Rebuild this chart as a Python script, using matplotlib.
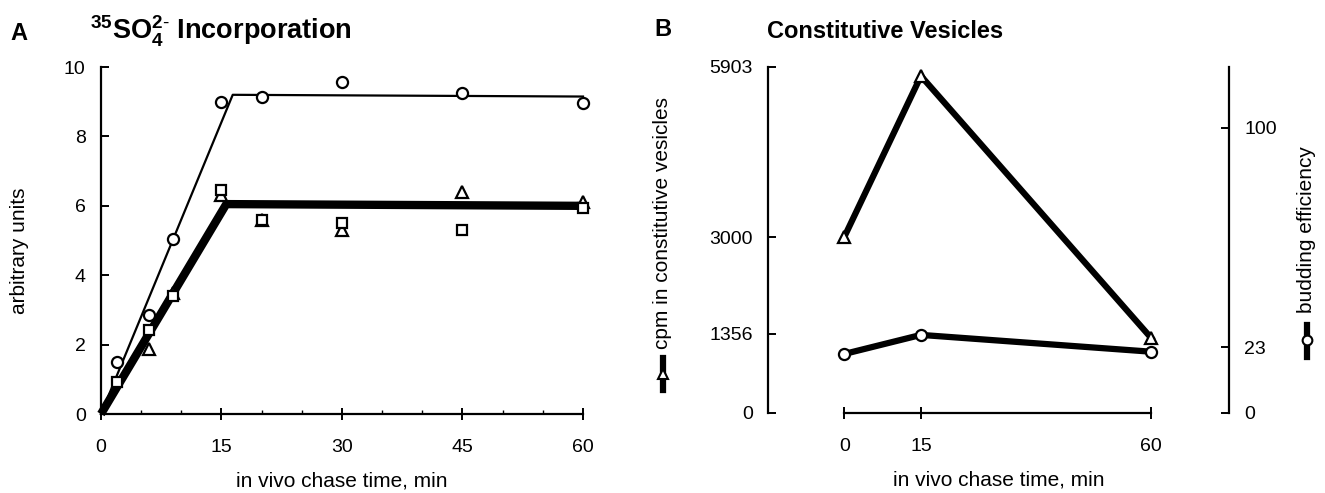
import matplotlib
matplotlib.use("Agg")
import matplotlib.pyplot as plt

plt.rcParams['font.family'] = ['Liberation Sans', 'DejaVu Sans']
plt.rcParams['mathtext.fontset'] = 'custom'
plt.rcParams['mathtext.rm'] = 'Liberation Sans'
plt.rcParams['mathtext.bf'] = 'Liberation Sans:bold'
plt.rcParams['mathtext.default'] = 'bf'

# panel A: 35SO4 incorporation (arbitrary units)
time_a = [2, 6, 9, 15, 20, 30, 45, 60]
circles_a = [1.5, 2.85, 5.03, 9.0, 9.14, 9.58, 9.25, 8.95]
triangle_time = [6, 9, 15, 20, 30, 45, 60]
triangles_a = [1.87, 3.5, 6.3, 5.6, 5.3, 6.4, 6.1]
squares_a = [0.92, 2.42, 3.4, 6.45, 5.6, 5.5, 5.3, 5.95]
# hand drawn fit lines
fit_thin_x = [0, 16.4, 60]
fit_thin_y = [0, 9.2, 9.15]
fit_thick_x = [0, 15.6, 60]
fit_thick_y = [0, 6.05, 6.0]
xticks_a = [0, 15, 30, 45, 60]
yticks_a = [0, 2, 4, 6, 8, 10]

# panel B: constitutive vesicles
time_b = [0, 15, 60]
cpm_b = [3000, 5750, 1280]
budding_b = [20.7, 27.4, 21.5]
cpm_ticks = [0, 1356, 3000, 5903]
budding_ticks = [0, 23, 100]

TICK_FS = 14
LABEL_FS = 15
TITLE_FS = 17

fig = plt.figure(figsize=(13.25, 4.93), dpi=100)

# ---------------- panel A ----------------
axA = fig.add_axes([0.0762, 0.1602, 0.3638, 0.7038])
axA.plot(fit_thin_x, fit_thin_y, color='black', lw=1.6, clip_on=False, zorder=2)
axA.plot(fit_thick_x, fit_thick_y, color='black', lw=6, clip_on=False, zorder=2,
         solid_capstyle='butt')
axA.plot(time_a, circles_a, 'o', ms=8, mfc='white', mec='black', mew=1.6,
         clip_on=False, zorder=3)
axA.plot(triangle_time, triangles_a, '^', ms=8, mfc='white', mec='black', mew=1.6,
         clip_on=False, zorder=3)
axA.plot(time_a, squares_a, 's', ms=7, mfc='white', mec='black', mew=1.6,
         clip_on=False, zorder=3)
axA.set_xlim(0, 60)
axA.set_ylim(0, 10)
axA.set_xticks(xticks_a)
axA.set_xticks([5, 10, 20, 25, 35, 40, 50, 55], minor=True)
axA.set_yticks(yticks_a)
axA.spines['top'].set_visible(False)
axA.spines['right'].set_visible(False)
for s in ['left', 'bottom']:
    axA.spines[s].set_linewidth(1.6)
axA.tick_params(axis='x', direction='inout', length=8, width=1.4, pad=14, labelsize=TICK_FS)
axA.tick_params(axis='x', which='minor', direction='in', length=3, width=1)
axA.tick_params(axis='y', direction='in', length=6, width=1.4, pad=11, labelsize=TICK_FS)
axA.set_xlabel('in vivo chase time, min', fontsize=LABEL_FS, labelpad=11)
axA.text(-0.168, 0.47, 'arbitrary units', transform=axA.transAxes, rotation=90,
         ha='center', va='center', fontsize=LABEL_FS)

fig.text(0.0075, 0.933, 'A', fontsize=TITLE_FS, fontweight='bold', va='center')
fig.text(0.068, 0.919, r'$^{35}$SO$_4^{2\text{-}}$ Incorporation', fontsize=19.5,
         fontweight='bold', va='baseline')

# ---------------- panel B ----------------
axB = fig.add_axes([0.5796, 0.1623, 0.3479, 0.7018])
axB.plot(time_b, cpm_b, '-^', color='black', lw=4.5, ms=8, mfc='white', mec='black',
         mew=1.6, clip_on=False, zorder=3)
axB.set_xlim(-14.9, 75.2)
axB.set_ylim(0, 5903)
axB.set_xticks(time_b)
axB.set_yticks(cpm_ticks)
axB.set_yticklabels([str(v) for v in cpm_ticks])
axB.spines['top'].set_visible(False)
axB.spines['right'].set_visible(False)
axB.spines['bottom'].set_bounds(0, 60)
for s in ['left', 'bottom']:
    axB.spines[s].set_linewidth(1.6)
axB.tick_params(axis='x', direction='inout', length=8, width=1.4, pad=14, labelsize=TICK_FS)
axB.tick_params(axis='y', direction='in', length=6, width=1.4, pad=11, labelsize=TICK_FS)
axB.set_xlabel('in vivo chase time, min', fontsize=LABEL_FS, labelpad=11)

axR = axB.twinx()
axR.plot(time_b, budding_b, '-o', color='black', lw=4.5, ms=8, mfc='white', mec='black',
         mew=1.6, clip_on=False, zorder=3)
axR.set_ylim(0, 121.4)
axR.set_yticks(budding_ticks)
for s in ['top', 'left', 'bottom']:
    axR.spines[s].set_visible(False)
axR.spines['right'].set_linewidth(1.6)
axR.tick_params(axis='y', direction='in', length=6, width=1.4, pad=11, labelsize=TICK_FS)

# axis labels with their legend keys
axB.text(-0.228, 0.55, 'cpm in constitutive vesicles', transform=axB.transAxes,
         rotation=90, ha='center', va='center', fontsize=LABEL_FS)
axB.plot([-0.228, -0.228], [0.066, 0.16], transform=axB.transAxes, color='black',
         lw=4.5, clip_on=False)
axB.plot([-0.228], [0.113], '^', transform=axB.transAxes, ms=7, mfc='white',
         mec='black', mew=1.5, clip_on=False)
axB.text(1.169, 0.53, 'budding efficiency', transform=axB.transAxes, rotation=90,
         ha='center', va='center', fontsize=LABEL_FS)
axB.plot([1.169, 1.169], [0.162, 0.255], transform=axB.transAxes, color='black',
         lw=4.5, clip_on=False)
axB.plot([1.169], [0.21], 'o', transform=axB.transAxes, ms=7, mfc='white',
         mec='black', mew=1.5, clip_on=False)

fig.text(0.494, 0.941, 'B', fontsize=TITLE_FS, fontweight='bold', va='center')
fig.text(0.579, 0.923, 'Constitutive Vesicles', fontsize=TITLE_FS, fontweight='bold',
         va='baseline')

fig.savefig('out.png', dpi=100)
